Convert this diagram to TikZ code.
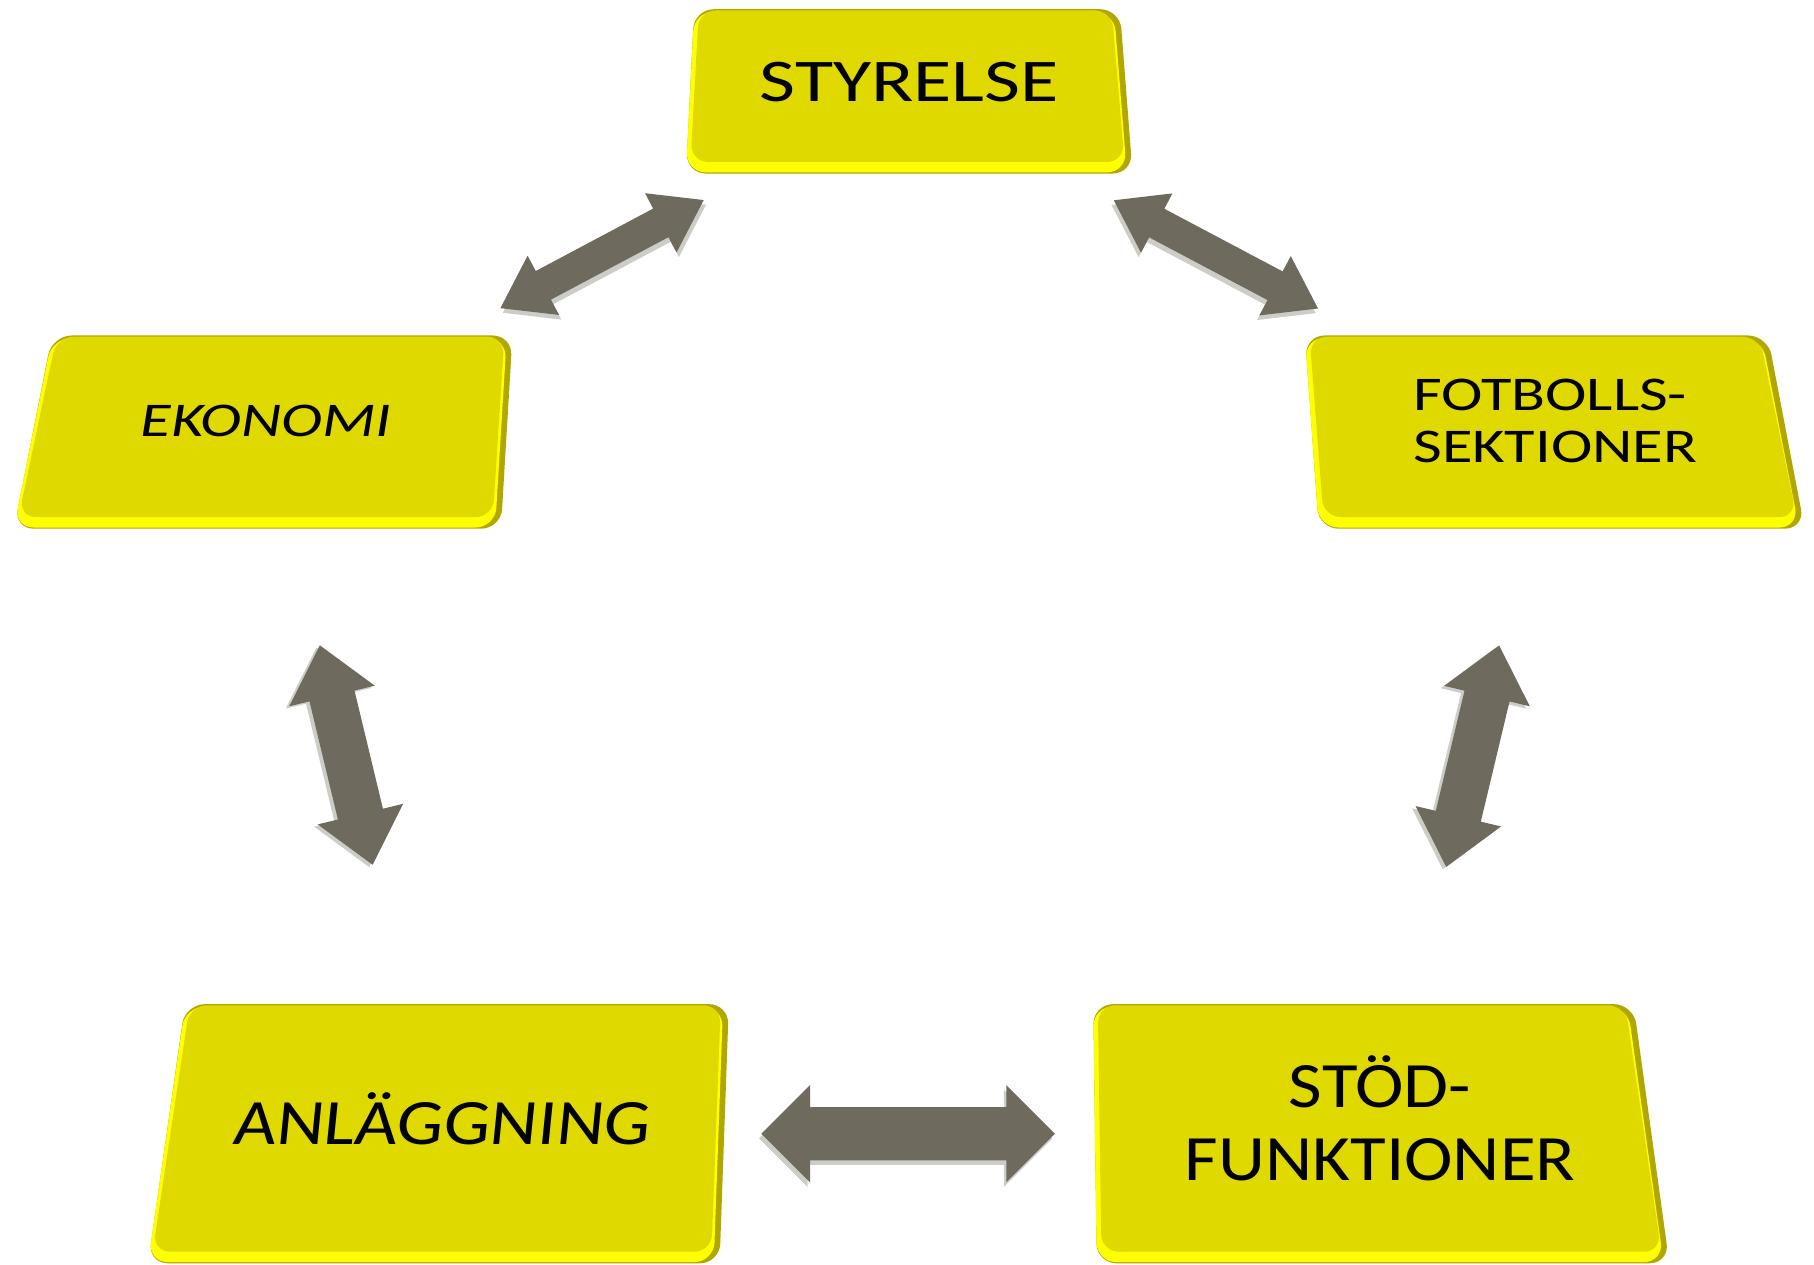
\documentclass[tikz,border=0pt]{standalone}
\usepackage{fontspec}
\setmainfont{Carlito}
\newfontfamily\fTop[FakeStretch=1.29]{Carlito}
\newfontfamily\fBot[FakeStretch=1.13]{Carlito}
\newfontfamily\fAnl[FakeStretch=1.14,FakeSlant=0.1]{Carlito}
\usetikzlibrary{calc}
\definecolor{boxface}{RGB}{224,217,0}
\definecolor{boxrim}{RGB}{255,255,0}
\definecolor{boxedge}{RGB}{176,168,0}
\definecolor{arrowgray}{RGB}{110,106,94}
\definecolor{arrowlight}{RGB}{205,205,200}

% #1 TL, #2 TR, #3 BR, #4 BL
\newcommand\YellowBox[4]{%
  \fill[boxedge, rounded corners=0.17cm] #1 -- #2 -- #3 -- #4 -- cycle;
  \fill[boxrim, rounded corners=0.17cm] ($#1+(0,2)$) -- ($#2+(-5,2)$) -- ($#3+(-5,-1)$) -- ($#4+(0,-1)$) -- cycle;
  \fill[boxface, rounded corners=0.15cm] ($#1+(4,1)$) -- ($#2+(-7,1)$) -- ($#3+(-7,-10)$) -- ($#4+(4,-10)$) -- cycle;
}
% #1 from, #2 to, #3 shorten start, #4 shorten end, #5 half shaft, #6 half head, #7 head length, #8 bevel shift
\newcommand\DoubleBlockArrow[8]{%
  \path ($(#1)!#3!(#2)$) coordinate (aA) ($(#2)!#4!(#1)$) coordinate (aB);
  \path ($(aA)!#7!(aB)$) coordinate (aA2) ($(aB)!#7!(aA)$) coordinate (aB2);
  \fill[arrowlight, transform canvas={#8}] (aA) -- ($(aA2)!#6!90:(aB)$) -- ($(aA2)!#5!90:(aB)$)
     -- ($(aB2)!#5!-90:(aA)$) -- ($(aB2)!#6!-90:(aA)$) -- (aB)
     -- ($(aB2)!#6!90:(aA)$) -- ($(aB2)!#5!90:(aA)$)
     -- ($(aA2)!#5!-90:(aB)$) -- ($(aA2)!#6!-90:(aB)$) -- cycle;
  \fill[arrowgray] (aA) -- ($(aA2)!#6!90:(aB)$) -- ($(aA2)!#5!90:(aB)$)
     -- ($(aB2)!#5!-90:(aA)$) -- ($(aB2)!#6!-90:(aA)$) -- (aB)
     -- ($(aB2)!#6!90:(aA)$) -- ($(aB2)!#5!90:(aA)$)
     -- ($(aA2)!#5!-90:(aB)$) -- ($(aA2)!#6!-90:(aB)$) -- cycle;
}

\begin{document}
\begin{tikzpicture}[x=0.01cm,y=-0.01cm,
  lbl/.style={inner sep=0pt, text=black, align=center}]
\useasboundingbox (0,0) rectangle (1568,1093.45);

% boxes
\YellowBox{(600,8)}{(968,8)}{(979,150)}{(593,150)}
\YellowBox{(45,290)}{(443,290)}{(433,457)}{(12,457)}
\YellowBox{(1128,290)}{(1528,290)}{(1560,457)}{(1140,457)}
\YellowBox{(160,868)}{(630,868)}{(622,1092)}{(128,1092)}
\YellowBox{(945,868)}{(1412,868)}{(1443,1092)}{(948,1092)}

% box centres
\coordinate (styC) at (785,79);
\coordinate (ekoC) at (232,373);
\coordinate (fotC) at (1340,373);
\coordinate (anlC) at (378,980);
\coordinate (stdC) at (1195,980);

% labels
\node[lbl, font={\fTop\fontsize{14.9}{15}\selectfont}] (sty) at (786,71) {STYRELSE};
\node[lbl, font={\fTop\itshape\fontsize{11.9}{13}\selectfont}] (eko) at (230,364) {EKONOMI};
\node[lbl, align=left, anchor=west, font={\fTop\fontsize{11.9}{12.8}\selectfont}] (fot) at (1221,363.5) {FOTBOLLS-\\SEKTIONER};
\node[lbl, font={\fAnl\fontsize{15.9}{17}\selectfont}] (anl) at (381,967) {ANLÄGGNING};
\node[lbl, font={\fBot\fontsize{15.9}{17.9}\selectfont}] (std) at (1193,967) {STÖD-\\FUNKTIONER};

% connectors
\DoubleBlockArrow{ekoC}{styC}{2.27cm}{2.00cm}{0.14cm}{0.29cm}{0.42cm}{xshift=0.02cm,yshift=-0.04cm}
\DoubleBlockArrow{styC}{fotC}{2.01cm}{2.27cm}{0.14cm}{0.29cm}{0.42cm}{xshift=-0.02cm,yshift=-0.04cm}
\DoubleBlockArrow{ekoC}{anlC}{1.90cm}{2.39cm}{0.20cm}{0.38cm}{0.45cm}{xshift=-0.03cm,yshift=-0.02cm}
\DoubleBlockArrow{fotC}{stdC}{1.90cm}{2.37cm}{0.20cm}{0.38cm}{0.45cm}{xshift=-0.03cm,yshift=-0.02cm}
\DoubleBlockArrow{anlC}{stdC}{2.80cm}{2.83cm}{0.23cm}{0.42cm}{0.42cm}{xshift=-0.02cm,yshift=-0.04cm}
\end{tikzpicture}
\end{document}
